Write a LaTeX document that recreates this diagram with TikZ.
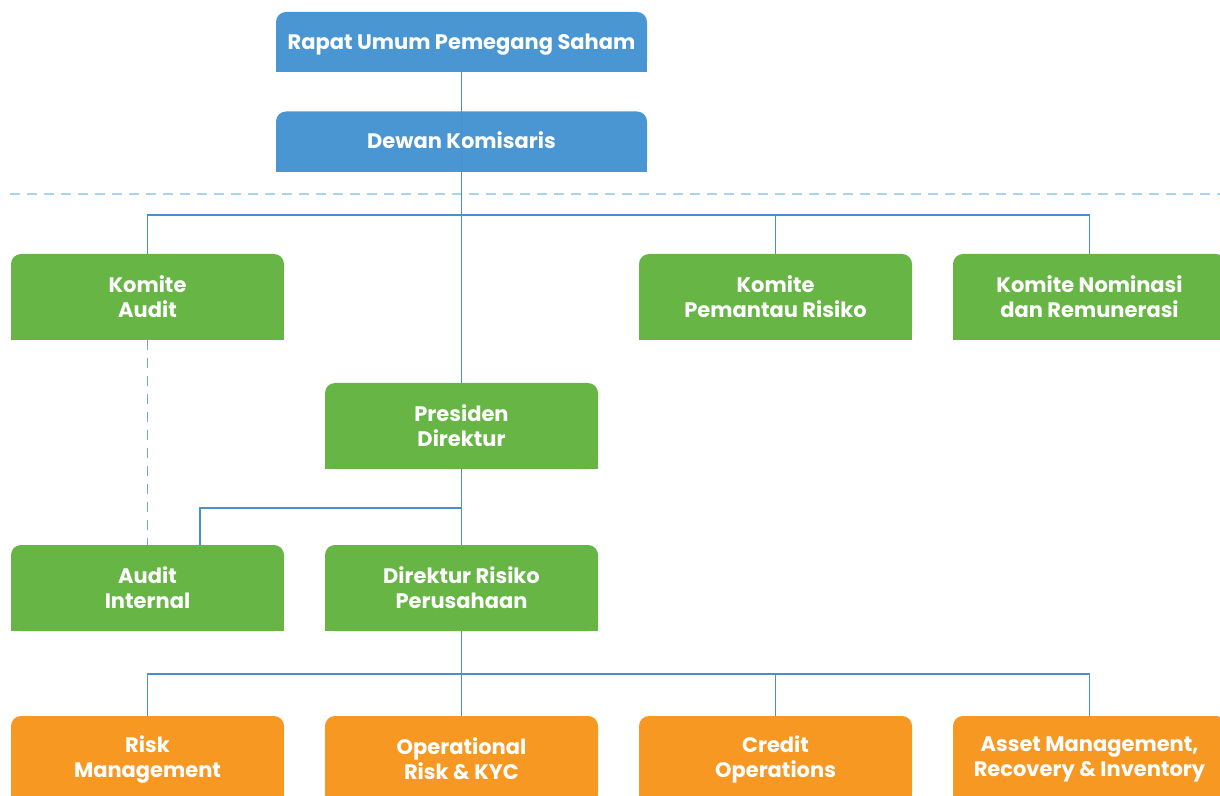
\documentclass[tikz,border=0pt]{standalone}
\usepackage{fontspec}
\setmainfont{Poppins}
\definecolor{bblue}{HTML}{4A96D2}
\definecolor{bgreen}{HTML}{66B545}
\definecolor{borange}{HTML}{F79823}
\definecolor{lineblue}{HTML}{4A8FC9}
\definecolor{dashblue}{HTML}{A8D5EE}
\definecolor{vdashblue}{HTML}{6FA8DC}
\tikzset{
  orgbox/.style={rectangle, rounded corners=5pt, text=white, align=center,
    font=\fontsize{10.5}{12.5}\selectfont\bfseries, inner sep=0pt},
  bluebox/.style={orgbox, fill=bblue, minimum width=185.5pt, minimum height=30pt,
    text height=7.4pt, text depth=0pt},
  greenbox/.style={orgbox, fill=bgreen, minimum width=136.5pt, minimum height=43pt},
  orangebox/.style={orgbox, fill=borange, minimum width=136.5pt, minimum height=43pt},
  conn/.style={draw=lineblue, line width=0.6pt},
  dconn/.style={draw=vdashblue, line width=0.9pt, dash pattern=on 5pt off 4pt},
  sepline/.style={draw=dashblue, line width=0.7pt, dash pattern=on 5pt off 3.5pt}
}
\begin{document}
\begin{tikzpicture}[x=0.5pt,y=-0.5pt]
\useasboundingbox (0,0) rectangle (1220,796);
\clip (0,0) rectangle (1220,796);
% separator
\coordinate (sepL) at (10,194);
\coordinate (sepR) at (1220,194);
\draw[sepline] (sepL) -- (sepR);
% boxes
\node[bluebox] (rups) at (461.5,42) {Rapat Umum Pemegang Saham};
\node[bluebox] (dk) at (461.5,141.5) {Dewan Komisaris};
\node[greenbox] (ka) at (147.5,297) {Komite\\Audit};
\node[greenbox] (kp) at (775.5,297) {Komite\\Pemantau Risiko};
\node[greenbox] (kn) at (1089.5,297) {Komite Nominasi\\dan Remunerasi};
\node[greenbox] (pd) at (461.5,426) {Presiden\\Direktur};
\node[greenbox] (ai) at (147.5,588) {Audit\\Internal};
\node[greenbox] (dr) at (461.5,588) {Direktur Risiko\\Perusahaan};
\node[orangebox] (rm) at (147.5,759) {Risk\\Management};
\node[orangebox] (ok) at (461.5,759) {Operational\\Risk \& KYC};
\node[orangebox] (co) at (775.5,759) {Credit\\Operations};
\node[orangebox] (am) at (1089.5,759) {Asset Management,\\Recovery \& Inventory};
% square off bottom corners
\foreach \n/\c in {rups/bblue,dk/bblue,ka/bgreen,kp/bgreen,kn/bgreen,pd/bgreen,ai/bgreen,dr/bgreen,rm/borange,ok/borange,co/borange,am/borange}
  \fill[\c] (\n.south west) rectangle ([yshift=6pt]\n.south east);
% connectors
\coordinate (barA) at (461.5,215);
\coordinate (barB) at (461.5,508);
\coordinate (barC) at (461.5,674);
\draw[conn] (rups.south) -- (dk.south);
\draw[conn] (dk.south) -- (pd.north);
\draw[conn] (ka.north) |- (barA) -| (kn.north);
\draw[conn] (kp.north) -- (kp.north |- barA);
\draw[conn] (pd.south) -- (dr.north);
\draw[conn] ([xshift=26.25pt]ai.north) |- (barB);
\draw[conn] (dr.south) -- (barC);
\draw[conn] (rm.north) |- (barC) -| (am.north);
\draw[conn] (ok.north) -- (barC);
\draw[conn] (co.north) -- (co.north |- barC);
\draw[dconn] (ka.south) -- (ai.north);
\end{tikzpicture}
\end{document}
